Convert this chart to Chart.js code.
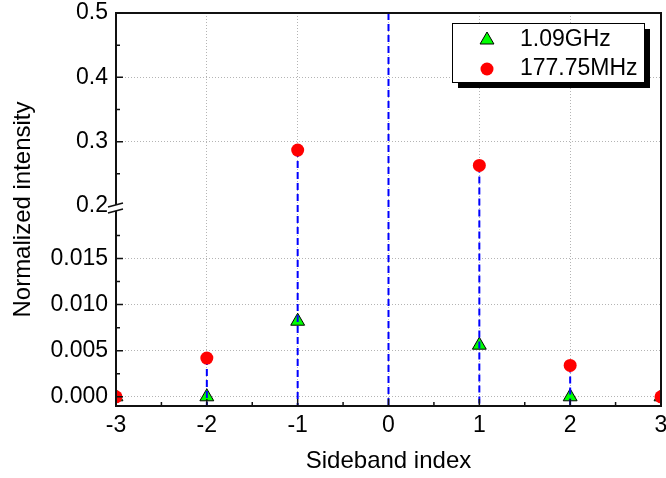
<!DOCTYPE html>
<html>
<head>
<meta charset="utf-8">
<script src="https://cdn.jsdelivr.net/npm/chart.js@4.4.0/dist/chart.umd.min.js"></script>
<style>
    html, body { margin: 0; padding: 0; background: #fff; }
</style>
</head>
<body>
<canvas id="sidebandChart" width="666" height="478"></canvas>
<script>
// sideband index on x
const sidebands = [-3, -2, -1, 0, 1, 2, 3];
// series values (null = not measured / off scale)
const ghzValues = [0, 0, 0.0082, null, 0.0056, 0, 0];
const mhzValues = [0, 0.0042, 0.287, null, 0.263, 0.0034, 0];
// dashed drop lines, carrier at 0 is normalised to 1 (off the top)
const stemValues = [0, 0.0042, 0.287, 1, 0.263, 0.0034, 0];

const xTicks = [-3, -2, -1, 0, 1, 2, 3];
const xMinorTicks = [-2.5, -1.5, -0.5, 0.5, 1.5, 2.5];
const lowTicks = [0, 0.005, 0.010, 0.015];
const lowMinorTicks = [0.0025, 0.0075, 0.0125, 0.0175];
const highTicks = [0.2, 0.3, 0.4, 0.5];
const highMinorTicks = [0.25, 0.35, 0.45];
const lowRange = [-0.001, 0.0207];
const highRange = [0.2, 0.5];

const FONT = "'Liberation Sans', Arial, sans-serif";
const GRID = '#b4b4b4';

function pts(values, keep) {
    return sidebands.map((x, i) => ({x: x, y: (values[i] !== null && keep(values[i])) ? values[i] : null}));
}
const isLow = v => v <= lowRange[1];
const isHigh = v => v >= highRange[0];

// dashed drop lines, drawn right after the triangle series
function drawStems(chart) {
    const ctx = chart.ctx;
    const area = chart.chartArea;
    const xs = chart.scales.x, yLow = chart.scales.yLow, yHigh = chart.scales.yHigh;
    const bottom = yLow.getPixelForValue(yLow.min);
    ctx.save();
    ctx.strokeStyle = '#0000ff';
    ctx.lineWidth = 2;
    ctx.setLineDash([7, 4]);
    sidebands.forEach((x, i) => {
        const v = stemValues[i];
        let top = isLow(v) ? yLow.getPixelForValue(v) : yHigh.getPixelForValue(v);
        top = Math.max(top, area.top);
        const px = xs.getPixelForValue(x);
        ctx.beginPath();
        ctx.moveTo(px, top);
        ctx.lineTo(px, bottom);
        ctx.stroke();
    });
    ctx.restore();
}

function drawMarker(ctx, style, x, y, r, fill) {
    ctx.beginPath();
    if (style === 'triangle') {
        let a = 0;
        ctx.moveTo(x + Math.sin(a) * r, y - Math.cos(a) * r);
        a += Math.PI * 2 / 3;
        ctx.lineTo(x + Math.sin(a) * r, y - Math.cos(a) * r);
        a += Math.PI * 2 / 3;
        ctx.lineTo(x + Math.sin(a) * r, y - Math.cos(a) * r);
        ctx.closePath();
        ctx.fillStyle = fill;
        ctx.fill();
        ctx.lineWidth = 1;
        ctx.strokeStyle = '#000';
        ctx.stroke();
    } else {
        ctx.arc(x, y, r, 0, Math.PI * 2);
        ctx.fillStyle = fill;
        ctx.fill();
    }
}

const decorPlugin = {
    id: 'decor',
    afterDatasetDraw(chart, args) {
        if (args.index === 0) drawStems(chart);
    },
    afterDraw(chart) {
        const ctx = chart.ctx;
        const a = chart.chartArea;
        const xs = chart.scales.x, yLow = chart.scales.yLow, yHigh = chart.scales.yHigh;
        ctx.save();

        // frame
        ctx.strokeStyle = '#111';
        ctx.lineWidth = 2;
        ctx.strokeRect(a.left, a.top, a.right - a.left, a.bottom - a.top);

        // inward ticks
        ctx.lineWidth = 1.5;
        ctx.beginPath();
        xTicks.forEach(v => { const p = xs.getPixelForValue(v); ctx.moveTo(p, a.bottom); ctx.lineTo(p, a.bottom - 7); });
        xMinorTicks.forEach(v => { const p = xs.getPixelForValue(v); ctx.moveTo(p, a.bottom); ctx.lineTo(p, a.bottom - 4); });
        lowTicks.forEach(v => { const p = yLow.getPixelForValue(v); ctx.moveTo(a.left, p); ctx.lineTo(a.left + 7, p); });
        lowMinorTicks.forEach(v => { const p = yLow.getPixelForValue(v); ctx.moveTo(a.left, p); ctx.lineTo(a.left + 4, p); });
        highTicks.forEach(v => { const p = yHigh.getPixelForValue(v); ctx.moveTo(a.left, p); ctx.lineTo(a.left + 7, p); });
        highMinorTicks.forEach(v => { const p = yHigh.getPixelForValue(v); ctx.moveTo(a.left, p); ctx.lineTo(a.left + 4, p); });
        ctx.stroke();

        // axis break marks
        const yb = yHigh.bottom;
        const l = a.left;
        ctx.fillStyle = '#fff';
        ctx.beginPath();
        ctx.moveTo(l - 8, yb + 1); ctx.lineTo(l + 7, yb - 3);
        ctx.lineTo(l + 7, yb + 3); ctx.lineTo(l - 8, yb + 7);
        ctx.closePath();
        ctx.fill();
        ctx.lineWidth = 1.5;
        ctx.beginPath();
        ctx.moveTo(l - 8, yb + 1); ctx.lineTo(l + 7, yb - 3);
        ctx.moveTo(l - 8, yb + 7); ctx.lineTo(l + 7, yb + 3);
        ctx.stroke();

        // legend with drop shadow
        const bw = 192, bh = 59;
        const bx = a.right - 17 - bw, by = a.top + 10;
        ctx.fillStyle = '#000';
        ctx.fillRect(bx + 6, by + 6, bw, bh);
        ctx.fillStyle = '#fff';
        ctx.fillRect(bx, by, bw, bh);
        ctx.lineWidth = 1;
        ctx.strokeStyle = '#000';
        ctx.strokeRect(bx + 0.5, by + 0.5, bw, bh);
        const items = [chart.data.datasets[0], chart.data.datasets[1]];
        ctx.font = '23px ' + FONT;
        ctx.textBaseline = 'middle';
        items.forEach((ds, i) => {
            const cy = by + 17 + i * 29;
            drawMarker(ctx, ds.pointStyle, bx + 35, cy, ds.pointRadius, ds.backgroundColor);
            ctx.fillStyle = '#000';
            ctx.fillText(ds.label, bx + 68, cy);
        });
        ctx.restore();
    }
};

const ctx = document.getElementById('sidebandChart').getContext('2d');
const chart = new Chart(ctx, {
    type: 'scatter',
    data: {
        datasets: [{
            label: '1.09GHz',
            data: pts(ghzValues, isLow),
            yAxisID: 'yLow',
            pointStyle: 'triangle',
            pointRadius: 8,
            backgroundColor: '#00ff00',
            borderColor: '#000',
            borderWidth: 1,
            order: 1,
            clip: 0
        }, {
            label: '177.75MHz',
            data: pts(mhzValues, isLow),
            yAxisID: 'yLow',
            pointStyle: 'circle',
            pointRadius: 6.5,
            backgroundColor: '#ff0000',
            borderWidth: 0,
            order: 0,
            clip: 0
        }, {
            label: '177.75MHz',
            data: pts(mhzValues, isHigh),
            yAxisID: 'yHigh',
            pointStyle: 'circle',
            pointRadius: 6.5,
            backgroundColor: '#ff0000',
            borderWidth: 0,
            order: 0,
            clip: 0
        }]
    },
    options: {
        responsive: false,
        animation: false,
        devicePixelRatio: 1,
        layout: { autoPadding: false, padding: { left: 0, right: 5, top: 13, bottom: 0 } },
        plugins: {
            legend: { display: false },
            tooltip: { enabled: false }
        },
        scales: {
            x: {
                type: 'linear',
                min: -3,
                max: 3,
                afterBuildTicks: s => { s.ticks = xTicks.map(v => ({value: v})); },
                afterFit: s => { s.height = 72; s.paddingRight = 0; s.paddingLeft = 0; },
                ticks: { color: '#000', font: { family: FONT, size: 23 }, padding: 6, callback: v => String(v) },
                grid: { color: GRID, lineWidth: 1, drawTicks: false },
                border: { display: false, dash: [1, 2] },
                title: { display: true, text: 'Sideband index', color: '#000', font: { family: FONT, size: 24 }, padding: { top: 0, bottom: 2 } }
            },
            yLow: {
                type: 'linear',
                position: 'left',
                stack: 'left',
                stackWeight: 200,
                min: lowRange[0],
                max: lowRange[1],
                afterBuildTicks: s => { s.ticks = lowTicks.map(v => ({value: v})); },
                afterFit: s => { s.width = 76; s.paddingTop = 0; s.paddingBottom = 0; },
                ticks: { color: '#000', font: { family: FONT, size: 23 }, padding: 8, callback: v => v.toFixed(3) },
                grid: { color: GRID, lineWidth: 1, drawTicks: false },
                border: { display: false, dash: [1, 2] }
            },
            yHigh: {
                type: 'linear',
                position: 'left',
                stack: 'left',
                stackWeight: 193,
                min: highRange[0],
                max: highRange[1],
                afterBuildTicks: s => { s.ticks = highTicks.map(v => ({value: v})); },
                afterFit: s => { s.width = 76; s.paddingTop = 0; s.paddingBottom = 0; },
                ticks: { color: '#000', font: { family: FONT, size: 23 }, padding: 8, callback: v => v.toFixed(1) },
                grid: { color: c => (c.tick && c.tick.value === highRange[0]) ? 'rgba(0,0,0,0)' : GRID, lineWidth: 1, drawTicks: false },
                border: { display: false, dash: [1, 2] }
            },
            yTitle: {
                type: 'linear',
                position: 'left',
                weight: 1,
                min: 0,
                max: 1,
                afterFit: s => { s.width = 40; },
                ticks: { display: false },
                grid: { display: false, drawTicks: false },
                border: { display: false },
                title: { display: true, text: 'Normalized intensity', color: '#000', font: { family: FONT, size: 24 }, padding: { top: 9, bottom: 0 } }
            }
        }
    },
    plugins: [decorPlugin]
});
</script>
</body>
</html>
